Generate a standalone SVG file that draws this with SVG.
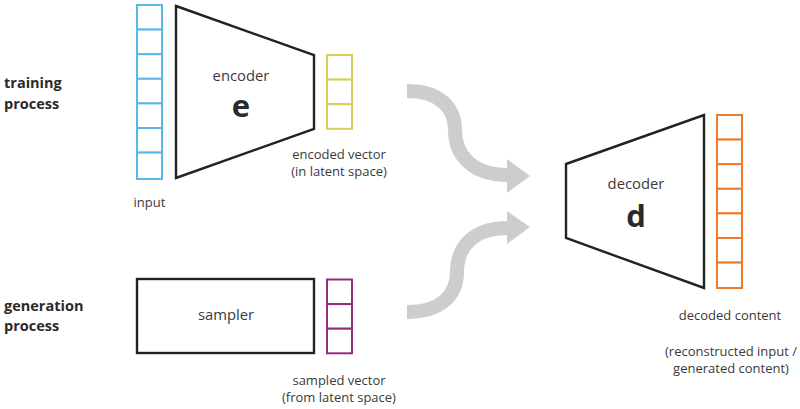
<svg xmlns="http://www.w3.org/2000/svg" width="800" height="409" viewBox="0 0 800 409">
<style>
text{font-family:"Open Sans","Liberation Sans",sans-serif;fill:#3a3a3a}
.lbl{font-size:13px}
.name{font-size:14.8px}
.big{font-size:31px;font-weight:bold;fill:#2a2a2a}
.sec{font-size:14.5px;font-weight:bold;fill:#2a2a2a}
.shape{fill:#fff;stroke:#222;stroke-width:2.4;stroke-linejoin:miter}
.cell{fill:#fff;stroke-width:2}
.blue{stroke:#5ab7e8}
.yellow{stroke:#d6d05a}
.purple{stroke:#962c7c}
.orange{stroke:#f07a2c}
.flow{fill:none;stroke:#cdcdcd;stroke-width:14}
.head{fill:#cdcdcd}
</style>
<defs>
<g id="cell3">
<rect class="cell" x="0" y="0" width="25" height="24.6"/>
<rect class="cell" x="0" y="24.6" width="25" height="24.6"/>
<rect class="cell" x="0" y="49.2" width="25" height="24.6"/>
</g>
</defs>

<g id="section-labels">
<text class="sec" x="4" y="88">training</text>
<text class="sec" x="4" y="109">process</text>
<text class="sec" x="4" y="311">generation</text>
<text class="sec" x="4" y="331">process</text>
</g>

<g id="input">
<g class="blue">
<use href="#cell3" x="137" y="5"/>
<use href="#cell3" x="137" y="78.8"/>
<rect class="cell" x="137" y="152.6" width="25" height="26.4"/>
</g>
<text class="lbl" x="149.5" y="207" text-anchor="middle">input</text>
</g>

<g id="encoder">
<polygon class="shape" points="176,6 314,55 314,129 176,178"/>
<text class="name" x="241" y="81" text-anchor="middle">encoder</text>
<text class="big" x="241" y="117" text-anchor="middle">e</text>
</g>

<g id="encoded-vector">
<g class="yellow"><use href="#cell3" x="327" y="55"/></g>
<text class="lbl" x="339" y="159" text-anchor="middle">encoded vector</text>
<text class="lbl" x="339" y="176" text-anchor="middle">(in latent space)</text>
</g>

<g id="sampler">
<rect class="shape" x="137" y="279" width="177" height="74"/>
<text class="name" x="226" y="320" text-anchor="middle">sampler</text>
</g>

<g id="sampled-vector">
<g class="purple"><use href="#cell3" x="327" y="279.5"/></g>
<text class="lbl" x="339" y="385" text-anchor="middle">sampled vector</text>
<text class="lbl" x="339" y="402" text-anchor="middle">(from latent space)</text>
</g>

<g id="decoder">
<polygon class="shape" points="566,164 704,115 704,288 566,238"/>
<text class="name" x="636" y="189" text-anchor="middle">decoder</text>
<text class="big" x="636" y="227" text-anchor="middle">d</text>
</g>

<g id="decoded-content">
<g class="orange">
<use href="#cell3" x="717" y="115"/>
<use href="#cell3" x="717" y="188.8"/>
<rect class="cell" x="717" y="262.6" width="25" height="25.4"/>
</g>
<text class="lbl" x="730" y="320" text-anchor="middle">decoded content</text>
<text class="lbl" x="731" y="356" text-anchor="middle">(reconstructed input /</text>
<text class="lbl" x="731" y="373" text-anchor="middle">generated content)</text>
</g>

<g id="connectors">
<path class="flow" d="M407,91 C440,91 455,108 455,130 C455,155 472,175 508,175"/>
<polygon class="head" points="507,159 530,176 507,193"/>
<path class="flow" d="M407,312 C440,312 457,296 457,272 C457,248 472,228 508,228"/>
<polygon class="head" points="507,211 530,227 507,244"/>
</g>
</svg>
